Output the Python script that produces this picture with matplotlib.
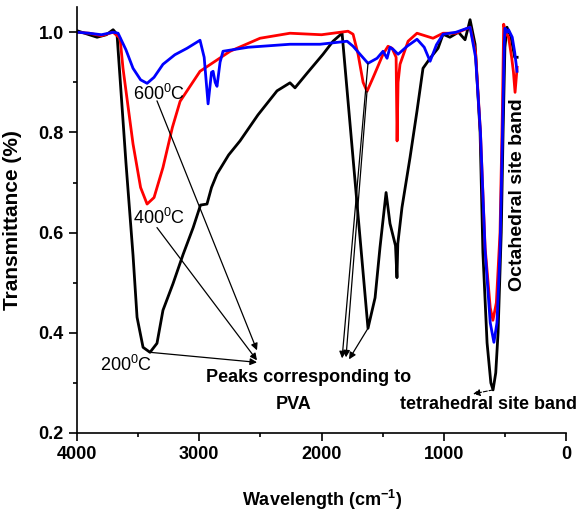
import matplotlib
matplotlib.use("Agg")
import matplotlib.pyplot as plt
from matplotlib.ticker import MultipleLocator

plt.rcParams['font.family'] = ['Liberation Sans', 'DejaVu Sans']
plt.rcParams['mathtext.fontset'] = 'custom'
plt.rcParams['mathtext.rm'] = 'Liberation Sans'
plt.rcParams['mathtext.bf'] = 'Liberation Sans:bold'
plt.rcParams['mathtext.default'] = 'rm'

# FTIR spectra (wavenumber cm-1, transmittance)
wn_200 = [4000, 3900, 3836, 3760, 3705, 3673, 3600, 3542, 3509, 3460, 3403, 3346, 3297, 3215,
          3133, 3050, 2990, 2937, 2900, 2855, 2760, 2667, 2520, 2364, 2258, 2217, 2119, 1988,
          1906, 1832, 1800, 1700, 1620, 1562, 1522, 1472, 1440, 1395, 1383, 1376, 1342, 1276,
          1219, 1170, 1112, 1047, 1006, 950, 880, 826, 800, 785, 744, 703, 680, 646, 615, 597,
          575, 556, 530, 515, 500, 483, 450, 420, 400]
tr_200 = [1.003, 0.995, 0.99, 0.995, 1.005, 0.996, 0.74, 0.555, 0.431, 0.371, 0.361, 0.379, 0.445, 0.498,
          0.556, 0.61, 0.655, 0.657, 0.69, 0.717, 0.755, 0.783, 0.835, 0.883, 0.899, 0.889, 0.918, 0.956,
          0.982, 0.998, 0.909, 0.631, 0.409, 0.47, 0.57, 0.68, 0.618, 0.574, 0.51, 0.578, 0.65, 0.75,
          0.843, 0.928, 0.948, 0.968, 0.996, 0.99, 1.0, 0.985, 1.01, 1.025, 0.976, 0.80, 0.56, 0.38, 0.30, 0.286,
          0.32, 0.40, 0.60, 0.80, 0.97, 1.01, 0.99, 0.95, 0.95]

wn_400 = [4000, 3900, 3800, 3705, 3648, 3624, 3542, 3480, 3427, 3370, 3297, 3220, 3157, 2994,
          2748, 2503, 2258, 2000, 1783, 1742, 1701, 1660, 1628, 1579, 1497, 1456, 1423, 1390,
          1382, 1374, 1358, 1292, 1219, 1088, 1006, 900, 785, 740, 700, 662, 620, 598, 570,
          540, 520, 510, 495, 470, 445, 430, 417, 400]
tr_400 = [1.0, 0.998, 0.993, 1.0, 0.988, 0.928, 0.777, 0.69, 0.657, 0.67, 0.73, 0.81, 0.862, 0.922,
          0.962, 0.988, 0.998, 0.995, 1.002, 0.996, 0.956, 0.90, 0.882, 0.909, 0.956, 0.972, 0.968, 0.95,
          0.783, 0.90, 0.936, 0.982, 0.998, 0.988, 0.998, 0.998, 1.01, 0.96, 0.80, 0.57, 0.45, 0.425, 0.46,
          0.60, 0.85, 1.016, 1.0, 0.99, 0.95, 0.92, 0.88, 0.93]

wn_600 = [4000, 3900, 3800, 3705, 3664, 3600, 3542, 3480, 3427, 3370, 3297, 3200, 3100, 2994,
          2960, 2928, 2900, 2887, 2870, 2855, 2830, 2806, 2600, 2258, 2012, 1791, 1742, 1685,
          1620, 1546, 1497, 1464, 1440, 1415, 1374, 1300, 1219, 1160, 1112, 1060, 1006, 900,
          785, 740, 700, 662, 620, 590, 565, 540, 520, 505, 499, 483, 470, 460, 440, 420, 401]
tr_600 = [1.0, 0.998, 0.995, 1.0, 0.998, 0.965, 0.928, 0.905, 0.898, 0.91, 0.936, 0.955, 0.968, 0.984,
          0.95, 0.857, 0.92, 0.922, 0.90, 0.892, 0.94, 0.962, 0.97, 0.976, 0.976, 0.982, 0.972, 0.956,
          0.938, 0.948, 0.962, 0.948, 0.97, 0.966, 0.956, 0.972, 0.986, 0.97, 0.942, 0.975, 0.996, 1.0,
          1.01, 0.95, 0.80, 0.564, 0.42, 0.381, 0.42, 0.564, 0.80, 0.98, 1.008, 1.0, 1.005, 1.0, 0.99, 0.96, 0.922]

x_ticks = [4000, 3000, 2000, 1000, 0]
y_ticks = [0.2, 0.4, 0.6, 0.8, 1.0]

fig = plt.figure(figsize=(5.77, 5.13), dpi=100)
ax = fig.add_axes([0.1335, 0.156, 0.8475, 0.83])

ax.plot(wn_200, tr_200, color='black', lw=2)
ax.plot(wn_400, tr_400, color='red', lw=2)
ax.plot(wn_600, tr_600, color='blue', lw=2)

ax.set_xlim(4000, 0)
ax.set_ylim(0.2, 1.05)
ax.set_xticks(x_ticks)
ax.set_xticklabels([str(v) for v in x_ticks], fontweight='bold')
ax.set_yticks(y_ticks)
ax.set_yticklabels(['%.1f' % v for v in y_ticks], fontweight='bold')
ax.xaxis.set_minor_locator(MultipleLocator(500))
ax.yaxis.set_minor_locator(MultipleLocator(0.1))
ax.spines['top'].set_visible(False)
ax.spines['right'].set_visible(False)
for s in ('left', 'bottom'):
    ax.spines[s].set_linewidth(1.2)
ax.tick_params(which='major', direction='out', length=6, width=1.2, labelsize=13)
ax.tick_params(which='minor', direction='out', length=3, width=1.2)

ax.set_xlabel(r'Wavelength (cm$^{\mathbf{-1}}$)', fontsize=13, fontweight='bold', labelpad=18)
ax.set_ylabel('Transmittance (%)', fontsize=15, fontweight='bold', labelpad=12)

# temperature labels
ax.text(3540, 0.877, r'600$^{0}$C', fontsize=13, va='center', ha='left')
ax.text(3540, 0.63, r'400$^{0}$C', fontsize=13, va='center', ha='left')
ax.text(3812, 0.335, r'200$^{0}$C', fontsize=13, va='center', ha='left')

ax.text(2110, 0.311, 'Peaks corresponding to', fontsize=13, fontweight='bold', ha='center', va='center')
ax.text(2225, 0.256, 'PVA', fontsize=13, fontweight='bold', ha='center', va='center')
ax.text(638, 0.256, 'tetrahedral site band', fontsize=13, fontweight='bold', ha='center', va='center')
ax.text(395, 0.676, 'Octahedral site band', fontsize=14, fontweight='bold', ha='center', va='center',
        rotation=90)

arrow = dict(arrowstyle='-|>', lw=0.9, color='black', mutation_scale=10, shrinkA=0, shrinkB=0)
ax.annotate('', xy=(2528, 0.365), xytext=(3346, 0.863), arrowprops=arrow)
ax.annotate('', xy=(2528, 0.345), xytext=(3346, 0.61), arrowprops=arrow)
ax.annotate('', xy=(2528, 0.341), xytext=(3403, 0.361), arrowprops=arrow)
ax.annotate('', xy=(1832, 0.349), xytext=(1620, 0.938), arrowprops=arrow)
ax.annotate('', xy=(1800, 0.351), xytext=(1628, 0.882), arrowprops=arrow)
ax.annotate('', xy=(1775, 0.347), xytext=(1620, 0.409), arrowprops=arrow)
ax.annotate('', xy=(760, 0.278), xytext=(597, 0.286), arrowprops=dict(arrow, ls='--', lw=0.8))

fig.savefig('out.png', dpi=100)
